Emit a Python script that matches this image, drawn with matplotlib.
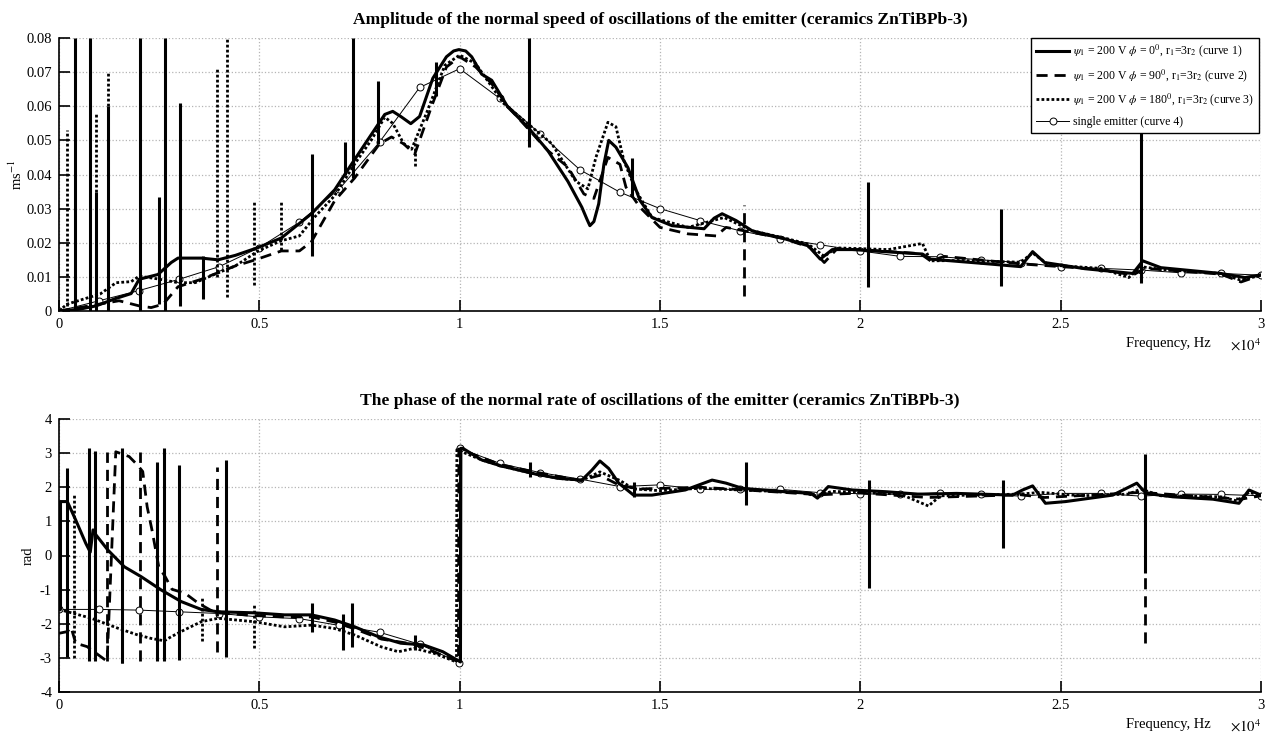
import numpy as np
import matplotlib
matplotlib.use("Agg")
import matplotlib.pyplot as plt

plt.rcParams["font.family"] = ["Liberation Serif", "DejaVu Serif"]
plt.rcParams["mathtext.fontset"] = "stix"
plt.rcParams["axes.unicode_minus"] = False

# frequency in units of 1e4 Hz
# --- amplitude, ms^-1 ---
amp1_f = [0, 0.05, 0.0925, 0.1425, 0.18, 0.2, 0.247, 0.28,
          0.297, 0.355, 0.397, 0.44, 0.497, 0.555, 0.63, 0.688,
          0.73, 0.772, 0.813, 0.833, 0.853, 0.878, 0.9, 0.933,
          0.967, 0.985, 0.998, 1.015, 1.03, 1.055, 1.08, 1.12, 1.17, 1.22,
          1.27, 1.305, 1.318, 1.325, 1.335, 1.347, 1.36, 1.372, 1.39, 1.42, 1.45,
          1.48, 1.53, 1.61, 1.635, 1.655, 1.69, 1.73, 1.81, 1.87,
          1.9, 1.93, 1.98, 2.1, 2.155, 2.175, 2.31, 2.4,
          2.43, 2.46, 2.56, 2.68, 2.705, 2.75, 2.9, 2.96, 3.0]
amp1 = [0, 0.0005, 0.0015, 0.0037, 0.0051, 0.0093, 0.0107, 0.0142,
        0.0155, 0.0155, 0.0150, 0.0163, 0.0186, 0.0214, 0.0285, 0.0355,
        0.043, 0.0504, 0.0576, 0.0585, 0.057, 0.0549, 0.057, 0.0682,
        0.0745, 0.0762, 0.0766, 0.0762, 0.0745, 0.0694, 0.0676, 0.0598, 0.0539, 0.047,
        0.038, 0.0304, 0.0268, 0.025, 0.0262, 0.0314, 0.043, 0.05, 0.048, 0.042, 0.0324,
        0.0274, 0.025, 0.0241, 0.0272, 0.0285, 0.0265, 0.0235, 0.0212, 0.0191,
        0.0152, 0.018, 0.018, 0.0171, 0.0167, 0.0152, 0.0139, 0.013,
        0.0174, 0.0142, 0.0124, 0.011, 0.0147, 0.0127, 0.011, 0.0098, 0.0106]

amp2_f = [0, 0.05, 0.1, 0.15, 0.2, 0.23, 0.26, 0.297,
          0.355, 0.44, 0.49, 0.555, 0.6, 0.63, 0.688, 0.738,
          0.8, 0.83, 0.86, 0.888, 0.93, 0.967, 1.0, 1.04,
          1.08, 1.12, 1.22, 1.27, 1.31, 1.335, 1.37, 1.40,
          1.415, 1.45, 1.5, 1.57, 1.64, 1.665, 1.71, 1.81,
          1.875, 1.91, 1.94, 2.0, 2.15, 2.175, 2.21, 2.4,
          2.6, 2.68, 2.71, 2.9, 2.95, 3.0]
amp2 = [0, 0.001, 0.002, 0.003, 0.0015, 0.001, 0.002, 0.0071,
        0.0093, 0.0132, 0.015, 0.0176, 0.0176, 0.0203, 0.0323, 0.039,
        0.049, 0.051, 0.049, 0.046, 0.06, 0.0715, 0.0745, 0.0715,
        0.0666, 0.06, 0.047, 0.0422, 0.0343, 0.033, 0.045, 0.043,
        0.0363, 0.0304, 0.0245, 0.0226, 0.022, 0.0245, 0.0235, 0.0212,
        0.0186, 0.0142, 0.018, 0.018, 0.0168, 0.0147, 0.016, 0.0138,
        0.0122, 0.0105, 0.0125, 0.0108, 0.0085, 0.0105]

amp3_f = [0, 0.02, 0.103, 0.1425, 0.18, 0.2, 0.247, 0.297,
          0.34, 0.397, 0.44, 0.497, 0.555, 0.6, 0.637, 0.688,
          0.738, 0.78, 0.813, 0.833, 0.86, 0.88, 0.92, 0.963,
          1.0, 1.04, 1.063, 1.11, 1.23, 1.29, 1.32, 1.34,
          1.37, 1.39, 1.41, 1.44, 1.48, 1.57, 1.66, 1.73,
          1.81, 1.87, 1.91, 1.94, 2.07, 2.155, 2.175, 2.25,
          2.4, 2.43, 2.47, 2.6, 2.67, 2.7, 2.75, 2.9, 2.95, 3.0]
amp3 = [0, 0.002, 0.005, 0.0083, 0.0086, 0.0102, 0.0094, 0.0083,
        0.0083, 0.0112, 0.0132, 0.0176, 0.0206, 0.022, 0.0274, 0.0338,
        0.0431, 0.0502, 0.0568, 0.055, 0.0491, 0.0474, 0.0588, 0.072,
        0.075, 0.0725, 0.0686, 0.0608, 0.049, 0.038, 0.0358, 0.045,
        0.0553, 0.054, 0.044, 0.0353, 0.0274, 0.0245, 0.0274, 0.0235,
        0.0214, 0.0196, 0.016, 0.0185, 0.018, 0.0198, 0.0147, 0.0148,
        0.0143, 0.017, 0.0135, 0.0125, 0.0098, 0.013, 0.0122, 0.011, 0.009, 0.0105]

amp4_f = [0, 0.1, 0.2, 0.3, 0.4, 0.5, 0.6, 0.7, 0.8, 0.9, 1.0,
          1.1, 1.2, 1.3, 1.4, 1.5, 1.6, 1.7, 1.8, 1.9, 2.0,
          2.1, 2.2, 2.3, 2.4, 2.5, 2.6, 2.7, 2.8, 2.9, 3.0]
amp4 = [0, 0.003, 0.006, 0.0093, 0.013, 0.0186, 0.026, 0.0358, 0.0495, 0.0655, 0.071,
        0.0623, 0.052, 0.0414, 0.0348, 0.030, 0.0265, 0.0235, 0.0212, 0.0194, 0.0176,
        0.016, 0.0159, 0.015, 0.0142, 0.013, 0.0125, 0.012, 0.0112, 0.011, 0.0105]

# numerical spikes (frequency, low, high)
amp1_spk_f = [0.041, 0.078, 0.0925, 0.1235, 0.203, 0.249, 0.265, 0.3025, 0.359,
              0.632, 0.713, 0.734, 0.797, 0.94, 1.1725, 1.43, 2.018, 2.35, 2.70]
amp1_spk_lo = [0, 0, 0, 0, 0, 0.002, 0, 0.0015, 0.0035,
               0.016, 0.04, 0.039, 0.049, 0.063, 0.048, 0.0333, 0.0069, 0.0072, 0.0083]
amp1_spk_hi = [0.08, 0.08, 0.035, 0.06, 0.08, 0.0335, 0.08, 0.061, 0.016,
               0.046, 0.0495, 0.08, 0.0675, 0.073, 0.08, 0.0447, 0.0377, 0.030, 0.08]
amp2_spk_f = [1.71]
amp2_spk_lo = [0.0044]
amp2_spk_hi = [0.031]
amp3_spk_f = [0.02, 0.0925, 0.1235, 0.395, 0.42, 0.487, 0.555, 0.888]
amp3_spk_lo = [0, 0.035, 0.06, 0.01, 0.004, 0.0075, 0.018, 0.0425]
amp3_spk_hi = [0.053, 0.058, 0.07, 0.071, 0.08, 0.032, 0.0325, 0.05]

# --- phase, rad ---
ph1_f = [0, 0.0025, 0.0208, 0.0417, 0.0667, 0.078, 0.085, 0.0925,
         0.122, 0.163, 0.205, 0.255, 0.305, 0.355, 0.397, 0.487,
         0.563, 0.63, 0.688, 0.738, 0.797, 0.853, 0.91, 0.958,
         1.002, 1.003, 1.008, 1.055, 1.105, 1.188, 1.247, 1.305,
         1.33, 1.35, 1.372, 1.397, 1.434, 1.48, 1.563, 1.63,
         1.665, 1.705, 1.81, 1.877, 1.893, 1.92, 1.98, 2.063,
         2.143, 2.17, 2.24, 2.38, 2.405, 2.43, 2.45, 2.462,
         2.512, 2.63, 2.69, 2.713, 2.78, 2.88, 2.945, 2.97, 3.0]
ph1 = [-1.58, 1.58, 1.58, 1.04, 0.36, 0.1, 0.75, 0.6,
       0.16, -0.33, -0.62, -1.01, -1.35, -1.58, -1.65, -1.68,
       -1.74, -1.74, -1.89, -2.09, -2.38, -2.57, -2.62, -2.82,
       -3.12, 3.14, 3.14, 2.8, 2.62, 2.39, 2.26, 2.21,
       2.5, 2.77, 2.55, 2.12, 1.77, 1.77, 1.92, 2.21,
       2.12, 1.97, 1.87, 1.82, 1.68, 2.02, 1.92, 1.87,
       1.8, 1.8, 1.82, 1.77, 1.92, 2.04, 1.72, 1.53,
       1.58, 1.77, 2.12, 1.82, 1.72, 1.65, 1.53, 1.92, 1.77]

ph2_f = [0, 0.0208, 0.03, 0.0417, 0.07, 0.12, 0.1417, 0.175,
         0.196, 0.209, 0.22, 0.232, 0.249, 0.265, 0.282, 0.315,
         0.348, 0.378, 0.397, 0.487, 0.563, 0.63, 0.688, 0.738,
         0.805, 0.887, 0.997, 0.998, 1.105, 1.2, 1.3, 1.35,
         1.4, 1.45, 1.6, 1.7, 1.9, 2.0, 2.17, 2.4,
         2.46, 2.7, 2.95, 3.0]
ph2 = [-2.28, -2.23, -2.1, -2.57, -2.67, -3.1, 3.04, 2.9,
       2.65, 2.46, 1.43, 0.75, -0.33, -0.62, -0.99, -1.11,
       -1.4, -1.6, -1.68, -1.76, -1.8, -1.8, -1.95, -2.15,
       -2.45, -2.6, -3.11, 3.12, 2.65, 2.42, 2.2, 2.35,
       2.05, 1.95, 2.0, 1.93, 1.78, 1.83, 1.7, 1.78,
       1.7, 1.85, 1.65, 1.75]

ph3_f = [0, 0.0808, 0.1467, 0.197, 0.23, 0.263, 0.28, 0.313,
         0.355, 0.397, 0.487, 0.563, 0.63, 0.688, 0.738, 0.805,
         0.847, 0.887, 0.937, 0.992, 0.993, 1.055, 1.105, 1.188,
         1.247, 1.305, 1.35, 1.4, 1.434, 1.5, 1.6, 1.7,
         1.85, 1.89, 1.93, 2.1, 2.17, 2.2, 2.4, 2.45,
         2.55, 2.67, 2.7, 2.75, 2.9, 2.94, 2.97, 3.0]
ph3 = [-1.58, -1.84, -2.13, -2.33, -2.43, -2.5, -2.38, -2.18,
       -1.94, -1.84, -1.94, -2.09, -2.04, -2.14, -2.33, -2.68,
       -2.82, -2.72, -2.87, -3.12, 3.1, 2.8, 2.62, 2.39,
       2.26, 2.2, 2.45, 2.2, 1.95, 1.9, 1.97, 1.92,
       1.85, 1.75, 1.88, 1.8, 1.45, 1.75, 1.8, 1.85,
       1.75, 1.8, 1.95, 1.75, 1.72, 1.6, 1.85, 1.76]

ph4_f = [0, 0.1, 0.2, 0.3, 0.4, 0.5, 0.6, 0.7, 0.8, 0.9, 0.999, 1.0,
         1.1, 1.2, 1.3, 1.4, 1.5, 1.6, 1.7, 1.8, 1.9, 2.0,
         2.1, 2.2, 2.3, 2.4, 2.5, 2.6, 2.7, 2.8, 2.9, 3.0]
ph4 = [-1.58, -1.58, -1.6, -1.65, -1.7, -1.8, -1.85, -2.05, -2.25, -2.6, -3.14, 3.14,
       2.70, 2.43, 2.24, 2.02, 2.07, 1.94, 1.94, 1.94, 1.84, 1.81,
       1.79, 1.84, 1.80, 1.74, 1.82, 1.82, 1.74, 1.80, 1.79, 1.75]

ph1_spk_f = [0.0025, 0.0208, 0.075, 0.089, 0.1567, 0.2458, 0.2625, 0.3, 0.4167,
             0.6308, 0.71, 0.7317, 0.8875, 1.175, 1.434, 1.715, 2.022, 2.355, 2.71]
ph1_spk_lo = [-1.58, -2.97, -3.1, -3.1, -3.14, -3.1, -3.1, -3.05, -2.97,
              -2.23, -2.77, -2.67, -2.77, 2.31, 1.72, 1.48, -0.96, 0.21, -0.5]
ph1_spk_hi = [1.58, 2.55, 3.15, 3.05, 3.14, 2.74, 3.14, 2.64, 2.8,
              -1.38, -1.7, -1.38, -2.33, 2.75, 2.16, 2.75, 2.21, 2.21, 2.97]
ph2_spk_f = [0.12, 0.1567, 0.2017, 0.3933, 2.71]
ph2_spk_lo = [-3.1, -3.14, -3.1, -2.82, -2.57]
ph2_spk_hi = [3.04, 3.14, 3.04, 2.6, -0.5]
ph3_spk_f = [0.0383, 0.3558, 0.4875]
ph3_spk_lo = [-3.0, -2.5, -2.72]
ph3_spk_hi = [1.76, -1.2, -1.45]

labels = [
    r"$\psi_1$ = 200 V $\phi$ = 0$^0$, r$_1$=3r$_2$ (curve 1)",
    r"$\psi_1$ = 200 V $\phi$ = 90$^0$, r$_1$=3r$_2$ (curve 2)",
    r"$\psi_1$ = 200 V $\phi$ = 180$^0$, r$_1$=3r$_2$ (curve 3)",
    "single emitter (curve 4)",
]

W, H = 1266, 733
fig = plt.figure(figsize=(W / 100, H / 100), dpi=100)
ax1 = fig.add_axes([59 / W, 1 - 311 / H, 1202 / W, 273 / H])
ax2 = fig.add_axes([59 / W, 1 - 692 / H, 1202 / W, 273 / H])

s1 = dict(color="black", lw=2.2, ls="-")
s2 = dict(color="black", lw=2.0, ls=(0, (4, 2.5)))
s3 = dict(color="black", lw=2.0, ls=(0, (1, 0.8)))
s4 = dict(color="black", lw=0.7, marker="o", ms=5, mfc="white", mew=0.7)

ax1.plot(amp4_f, amp4, label=labels[3], zorder=2, **s4)
ax1.plot(amp3_f, amp3, label=labels[2], **s3)
ax1.plot(amp2_f, amp2, label=labels[1], **s2)
ax1.plot(amp1_f, amp1, label=labels[0], **s1)
ax1.vlines(amp1_spk_f, amp1_spk_lo, amp1_spk_hi, colors="black", lw=2.2)
ax1.vlines(amp2_spk_f, amp2_spk_lo, amp2_spk_hi, colors="black", lw=2.0, linestyles=[(0, (4, 2.5))])
ax1.vlines(amp3_spk_f, amp3_spk_lo, amp3_spk_hi, colors="black", lw=2.0, linestyles=[(0, (1, 0.8))])

ax2.plot(ph4_f, ph4, zorder=2, **s4)
ax2.plot(ph3_f, ph3, **s3)
ax2.plot(ph2_f, ph2, **s2)
ax2.plot(ph1_f, ph1, **s1)
ax2.vlines(ph1_spk_f, ph1_spk_lo, ph1_spk_hi, colors="black", lw=2.2)
ax2.vlines(ph2_spk_f, ph2_spk_lo, ph2_spk_hi, colors="black", lw=2.0, linestyles=[(0, (4, 2.5))])
ax2.vlines(ph3_spk_f, ph3_spk_lo, ph3_spk_hi, colors="black", lw=2.0, linestyles=[(0, (1, 0.8))])

for ax in (ax1, ax2):
    ax.set_xlim(0, 3)
    ax.set_xticks([0, 0.5, 1, 1.5, 2, 2.5, 3])
    ax.set_xticklabels(["0", "0.5", "1", "1.5", "2", "2.5", "3"])
    ax.grid(True, color="#b5b5b5", ls=":", lw=0.9)
    ax.tick_params(direction="in", length=8, width=1.2, labelsize=10.5, pad=5)
    ax.spines["top"].set_visible(False)
    ax.spines["right"].set_visible(False)
    ax.spines["left"].set_linewidth(1.2)
    ax.spines["bottom"].set_linewidth(1.2)
    ax.set_xlabel("Frequency, Hz", fontsize=10.5, ha="right")
    ax.xaxis.set_label_coords(0.958, -0.095)
    ax.text(1.0, -0.095, r"$\times 10^4$", transform=ax.transAxes,
            ha="right", va="top", fontsize=10.5)

ax1.set_ylim(0, 0.08)
ax1.set_yticks([0, 0.01, 0.02, 0.03, 0.04, 0.05, 0.06, 0.07, 0.08])
ax1.set_yticklabels(["0", "0.01", "0.02", "0.03", "0.04", "0.05", "0.06", "0.07", "0.08"])
ax1.set_ylabel(r"ms$^{-1}$", fontsize=10.5)
ax1.yaxis.set_label_coords(-0.028, 0.5)
ax1.set_title("Amplitude of the normal speed of oscillations of the emitter (ceramics ZnTiBPb-3)",
              fontsize=12.6, fontweight="bold", pad=10)

ax2.set_ylim(-4, 4)
ax2.set_yticks(range(-4, 5))
ax2.set_ylabel("rad", fontsize=10.5)
ax2.yaxis.set_label_coords(-0.02, 0.5)
ax2.set_title("The phase of the normal rate of oscillations of the emitter (ceramics ZnTiBPb-3)",
              fontsize=12.6, fontweight="bold", pad=10)

h, l = ax1.get_legend_handles_labels()
leg = ax1.legend(h[::-1], l[::-1], loc="upper right", fontsize=8.5, fancybox=False,
                 framealpha=1, edgecolor="black", handlelength=2.8, handletextpad=0.3,
                 labelspacing=0.65, borderpad=0.4, borderaxespad=0,
                 bbox_to_anchor=(0.998, 1.0))
leg.get_frame().set_linewidth(1.0)
leg.set_zorder(5)

fig.savefig("out.png", dpi=100)
